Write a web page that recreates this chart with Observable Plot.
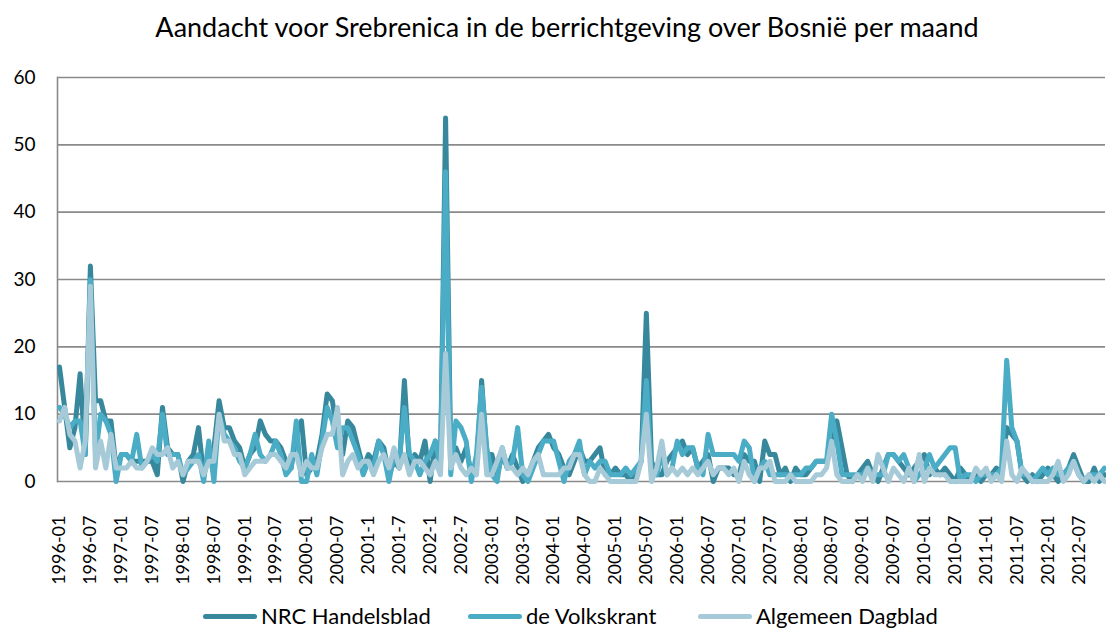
<!DOCTYPE html>
<html>
<head>
<meta charset="utf-8">
<script src="https://cdn.jsdelivr.net/npm/d3@7"></script>
<script src="https://cdn.jsdelivr.net/npm/@observablehq/plot@0.6"></script>
<style>
  html, body { margin: 0; padding: 0; background: #fff; }
  #wrap { position: relative; width: 1106px; height: 630px; overflow: hidden; font-family: Lato, "Open Sans", sans-serif; color: #000; }
  #title { position: absolute; left: 0; width: 1134px; top: 10px; text-align: center; font-size: 27px; white-space: nowrap; }
  #legend { position: absolute; top: 603px; left: 0; width: 1106px; height: 27px; }
  .item { position: absolute; display: flex; align-items: center; font-size: 22px; line-height: 26px; white-space: nowrap; }
  .sw { display: inline-block; width: 54px; height: 5px; border-radius: 3px; margin-right: 4px; }
  #chart { position: absolute; left: 0; top: 0; }
</style>
</head>
<body>
<div id="wrap">
  <div id="chart"></div>
  <div id="title">Aandacht voor Srebrenica in de berrichtgeving over Bosnië per maand</div>
  <div id="legend"></div>
</div>
<script>
// Series names and colours
const seriesNames = ["NRC Handelsblad", "de Volkskrant", "Algemeen Dagblad"];
const seriesColors = ["#37889c", "#4bacc6", "#a6cad8"];

// Monthly categories 1996-01 .. 2012-12
const months = [];
for (let y = 1996; y <= 2012; y++) for (let m = 1; m <= 12; m++) months.push(`${y}-${String(m).padStart(2, "0")}`);

// Tick labels shown on the category axis (every 6th month)
const tickLabels = ["1996-01","1996-07","1997-01","1997-07","1998-01","1998-07","1999-01","1999-07","2000-01","2000-07","2001-1","2001-7","2002-1","2002-7","2003-01","2003-07","2004-01","2004-07","2005-01","2005-07","2006-01","2006-07","2007-01","2007-07","2008-01","2008-07","2009-01","2009-07","2010-01","2010-07","2011-01","2011-07","2012-01","2012-07"];

const nrc = [
 17,11,5,8,16,4,32,12,12,9,9,2,
 4,4,3,3,3,3,3,1,11,5,4,4,
 0,3,4,8,1,4,5,12,8,8,6,5,
 2,4,5,9,7,6,6,5,3,2,7,9,
 1,2,3,7,13,12,7,4,9,8,5,2,
 4,3,6,5,1,3,2,15,2,4,3,6,
 0,6,2,54,4,5,3,5,1,2,15,4,
 4,1,4,2,4,2,0,1,3,5,6,7,
 5,4,2,1,3,5,3,3,4,5,1,1,
 2,1,1,0,1,3,25,3,1,1,3,4,
 5,6,4,5,2,3,4,0,2,2,2,1,
 1,4,3,3,0,6,4,4,1,2,0,2,
 1,1,2,3,3,3,5,9,5,1,0,1,
 2,3,1,0,2,4,4,3,2,1,2,3,
 4,1,2,1,2,1,0,2,1,0,1,0,
 1,1,2,1,8,7,6,1,0,1,0,1,
 2,1,0,1,2,4,2,0,0,2,0,1
];
const volkskrant = [
 11,10,8,9,9,4,30,4,10,9,7,0,
 4,4,3,7,2,3,4,3,10,4,4,4,
 1,2,3,4,0,6,0,10,7,6,5,3,
 2,4,7,4,3,4,6,4,1,2,9,0,
 0,4,1,6,11,9,5,8,8,6,4,1,
 3,2,6,4,0,4,3,11,4,3,1,3,
 4,6,2,46,1,9,8,6,0,4,14,5,
 1,0,5,2,3,8,1,0,2,4,6,6,
 6,3,0,3,4,6,1,3,2,3,3,1,
 1,1,2,1,2,3,15,1,1,4,1,2,
 6,4,5,5,2,1,7,4,4,4,4,4,
 3,6,5,0,2,3,1,1,1,1,1,1,
 1,2,2,3,3,3,10,6,1,1,1,1,
 1,2,1,1,1,4,4,3,4,2,0,1,
 2,4,2,3,4,5,5,0,1,1,0,1,
 1,1,1,2,18,8,6,1,1,0,1,2,
 1,2,1,1,2,3,1,0,1,1,1,2
];
const dagblad = [
 9,11,7,6,2,6,29,2,6,2,7,2,
 2,2,3,2,2,3,5,4,4,5,2,3,
 1,3,3,3,1,3,3,10,6,6,4,4,
 1,2,3,3,3,4,4,3,2,4,4,1,
 3,2,2,5,7,7,11,1,3,4,2,3,
 3,1,3,4,2,5,2,4,1,3,3,2,
 1,3,1,19,2,4,2,1,2,1,10,1,
 1,3,5,2,2,1,2,1,3,4,1,1,
 1,1,2,2,4,4,1,0,0,2,1,0,
 0,0,0,0,0,3,10,0,2,6,1,2,
 1,2,1,2,1,2,3,1,2,2,1,2,
 0,3,1,0,2,2,3,0,0,0,1,0,
 0,0,0,1,1,2,6,1,0,0,0,1,
 0,2,0,4,2,0,2,1,0,2,0,4,
 0,2,1,1,1,0,0,0,0,0,2,1,
 2,0,1,0,6,1,0,2,1,0,0,0,
 0,1,3,0,1,3,1,0,1,0,1,0
];
const seriesValues = [nrc, volkskrant, dagblad];

const yTicks = [0, 10, 20, 30, 40, 50, 60];

const tables = seriesValues.map((vals, s) => months.map((m, i) => ({i, month: m, series: seriesNames[s], value: vals[i]})));
const tickIdx = tickLabels.map((_, k) => k * 6);

const chart = Plot.plot({
  width: 1106,
  height: 630,
  marginLeft: 57,
  marginRight: 1,
  marginTop: 77,
  marginBottom: 149,
  style: {fontFamily: "Lato, 'Open Sans', sans-serif", fontSize: "18px", color: "#000", background: "#fff", overflow: "visible"},
  x: {domain: [0, months.length - 1], range: [59, 1104]},
  y: {domain: [0, 60]},
  color: {domain: seriesNames, range: seriesColors},
  marks: [
    Plot.gridY(yTicks, {stroke: "#8a8a8a", strokeOpacity: 1, strokeWidth: 1.6, x1: 0, x2: months.length - 1, insetLeft: -2, insetRight: -1}),
    Plot.frame({anchor: "left", stroke: "#8a8a8a", strokeWidth: 1.6}),
    Plot.axisY({ticks: yTicks, tickSize: 0, tickPadding: 22, label: null, fontSize: 19}),
    Plot.axisX({ticks: tickIdx, tickFormat: d => tickLabels[d / 6], tickRotate: -90, tickSize: 0, tickPadding: 34, label: null, fontSize: 18}),
    ...tables.map(t => Plot.line(t, {x: "i", y: "value", stroke: "series", strokeWidth: 5, strokeLinejoin: "round", strokeLinecap: "round"}))
  ]
});
document.getElementById("chart").appendChild(chart);

// Legend
const legendX = [203, 468, 698];
const legend = document.getElementById("legend");
seriesNames.forEach((name, k) => {
  const it = document.createElement("div");
  it.className = "item";
  it.style.left = legendX[k] + "px";
  it.innerHTML = `<span class="sw" style="background:${seriesColors[k]}"></span><span>${name}</span>`;
  legend.appendChild(it);
});
</script>
</body>
</html>
